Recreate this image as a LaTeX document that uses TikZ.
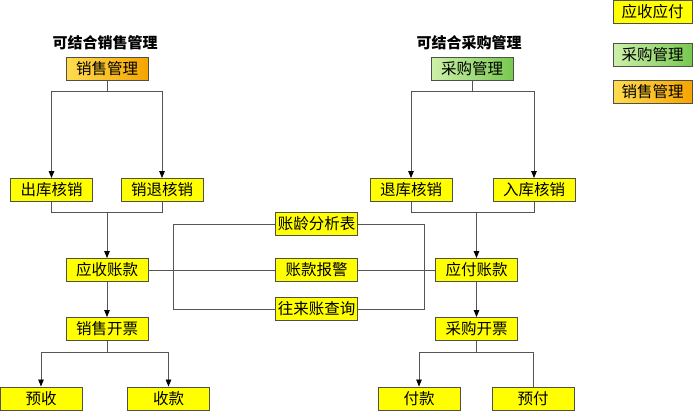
\documentclass[tikz,border=0pt]{standalone}
\usepackage{fontspec}
\setmainfont{Noto Sans CJK SC}
\usetikzlibrary{arrows.meta}
\definecolor{yel}{RGB}{255,255,0}
\definecolor{boxline}{RGB}{80,80,70}
\definecolor{conn}{RGB}{85,85,85}
\definecolor{grnA}{RGB}{205,240,170}
\definecolor{grnB}{RGB}{120,200,80}
\definecolor{orgA}{RGB}{255,220,80}
\definecolor{orgB}{RGB}{245,165,0}
\tikzset{
  box/.style={draw=boxline, line width=0.9pt, minimum width=82pt, minimum height=23pt,
    inner sep=0pt, font=\fontsize{15.5pt}{17pt}\selectfont},
  ybox/.style={box, fill=yel},
  gbox/.style={box, left color=grnA, right color=grnB},
  obox/.style={box, left color=orgA, right color=orgB},
  ttl/.style={font=\fontsize{15pt}{17pt}\selectfont\bfseries},
  ln/.style={draw=conn, line width=0.8pt},
  arr/.style={ln, -{Triangle[length=7pt,width=5.5pt,color=black]}}
}
\begin{document}
\begin{tikzpicture}[x=1pt,y=-1pt]
\useasboundingbox (0,0) rectangle (695,410);
% titles
\node[ttl] (t1) at (105,43) {可结合销售管理};
\node[ttl] (t2) at (469,43) {可结合采购管理};
% legend
\node[ybox, minimum width=79pt] (lg1) at (652.5,12) {应收应付};
\node[gbox, minimum width=79pt] (lg2) at (652.5,55) {采购管理};
\node[obox, minimum width=79pt] (lg3) at (652.5,91.5) {销售管理};
% left column
\node[obox] (xs) at (107,68.5) {销售管理};
\node[ybox] (ck) at (51.5,190) {出库核销};
\node[ybox] (xt) at (162,190) {销退核销};
\node[ybox] (ys) at (107,270) {应收账款};
\node[ybox] (xp) at (107,329) {销售开票};
\node[ybox] (yshou) at (41,398.5) {预收};
\node[ybox] (sk) at (168.5,398.5) {收款};
% right column
\node[gbox] (cg) at (472,68.5) {采购管理};
\node[ybox] (tk) at (411,190) {退库核销};
\node[ybox] (rk) at (534,190) {入库核销};
\node[ybox] (yf) at (476.5,270) {应付账款};
\node[ybox] (cp) at (476.5,329) {采购开票};
\node[ybox] (fk) at (419,398.5) {付款};
\node[ybox] (yfu) at (533,398.5) {预付};
% helper coordinates
\coordinate (fL) at (173,309);
\coordinate (fR) at (424,309);
\coordinate (j1) at (107,212);
\coordinate (j2) at (476.5,212);
% middle frame and lines (drawn before middle nodes)
\draw[ln] (316.5,224) -| (fL) -- (316.5,309);
\draw[ln] (316.5,224) -| (fR) -- (316.5,309);
\node[ybox] (zl) at (316.5,224) {账龄分析表};
\node[ybox] (zk) at (316.5,270) {账款报警};
\node[ybox] (wl) at (316.5,309) {往来账查询};
\draw[ln] (ys.east) -- (zk.west);
\draw[ln] (zk.east) -- (yf.west);
% left connectors
\draw[arr] (xs.south) -- ++(0,11) -| (ck.north);
\draw[arr] (xs.south) -- ++(0,11) -| (xt.north);
\draw[ln] (ck.south) -- (ck.south |- j1) -- (xt.south |- j1) -- (xt.south);
\draw[arr] (j1) -- (ys.north);
\draw[arr] (ys.south) -- (xp.north);
\draw[arr] (xp.south) -- ++(0,11.5) -| (yshou.north);
\draw[arr] (xp.south) -- ++(0,11.5) -| (sk.north);
% right connectors
\draw[arr] (cg.south) -- ++(0,11) -| (tk.north);
\draw[arr] (cg.south) -- ++(0,11) -| (rk.north);
\draw[ln] (tk.south) -- (tk.south |- j2) -- (rk.south |- j2) -- (rk.south);
\draw[arr] (j2) -- (yf.north);
\draw[arr] (yf.south) -- (cp.north);
\draw[arr] (cp.south) -- ++(0,11.5) -| (fk.north);
\draw[ln] (cp.south) -- ++(0,11.5) -| (yfu.north);
\end{tikzpicture}
\end{document}
